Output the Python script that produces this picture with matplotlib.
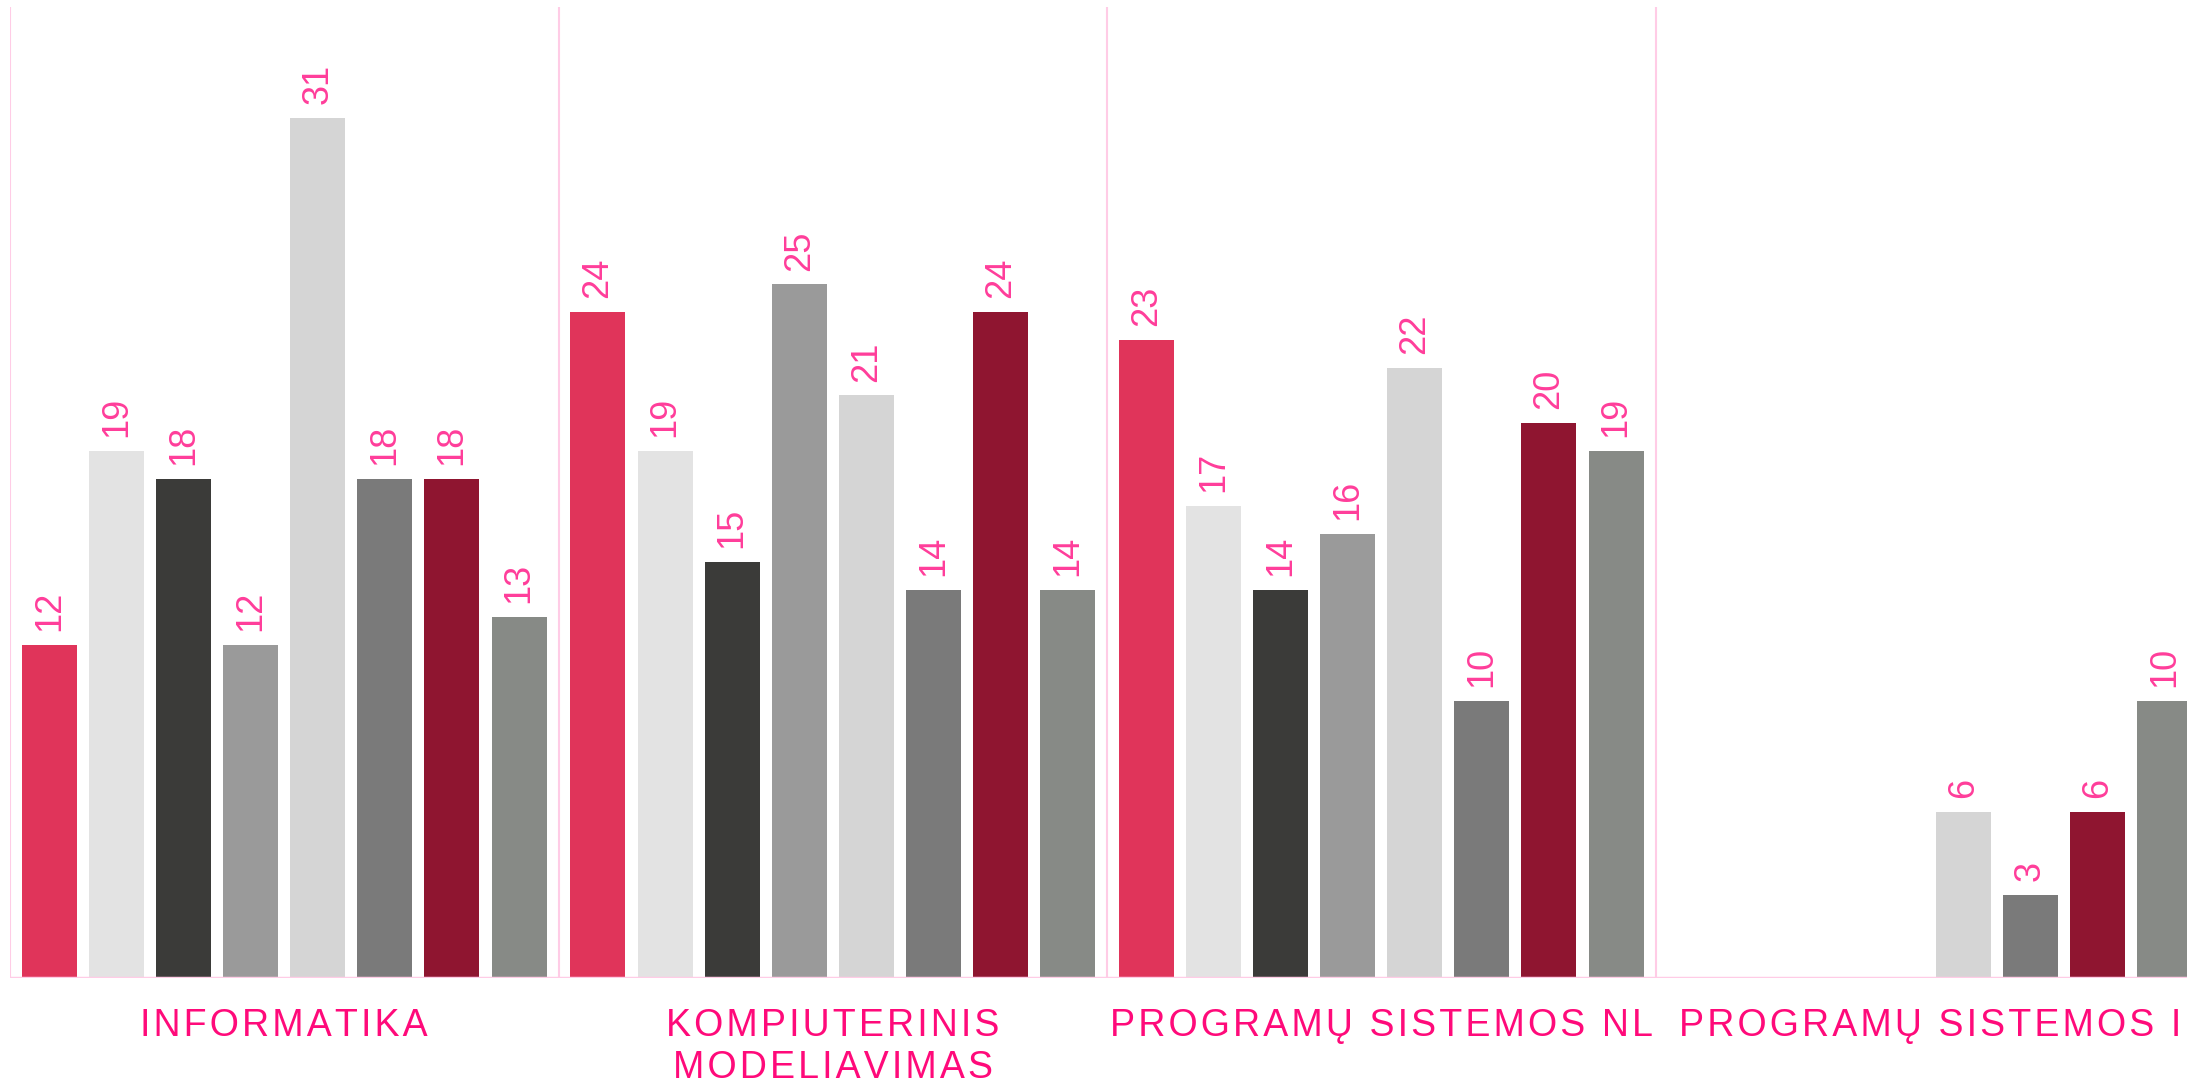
import numpy as np
import matplotlib
matplotlib.use("Agg")
import matplotlib.pyplot as plt

# data (8 series per study programme)
categories = ['INFORMATIKA', 'KOMPIUTERINIS\nMODELIAVIMAS',
              'PROGRAMŲ SISTEMOS NL', 'PROGRAMŲ SISTEMOS I']
informatika = [12, 19, 18, 12, 31, 18, 18, 13]
kompiuterinis = [24, 19, 15, 25, 21, 14, 24, 14]
programu_nl = [23, 17, 14, 16, 22, 10, 20, 19]
programu_i = [np.nan, np.nan, np.nan, np.nan, 6, 3, 6, 10]

series_colors = ['#E0345A', '#E3E3E3', '#3B3B39', '#9A9A9A',
                 '#D5D5D5', '#7A7A7A', '#8F1530', '#878A86']

groups = [informatika, kompiuterinis, programu_nl, programu_i]

plt.rcParams['font.family'] = ['Liberation Sans', 'DejaVu Sans']


def spaced(s):
    # the original labels are letter-spaced; fake it with hair spaces
    return '\n'.join('\u200a'.join(line) for line in s.split('\n'))


fig = plt.figure(figsize=(21.87, 10.83), dpi=100)
# axes run a little past the right edge, like the clipped original
ax = fig.add_axes([10 / 2187, 105 / 1083, 2194 / 2187, 971 / 1083])

pitch = 0.1223
width = 0.1004
margin = (1 - 8 * pitch) / 2

for gi, vals in enumerate(groups):
    for j, v in enumerate(vals):
        if np.isnan(v):
            continue
        x = gi + margin + (j + 0.5) * pitch
        ax.bar(x, v, width=width, color=series_colors[j], linewidth=0, zorder=2)
        ax.text(x, v + 0.5, f'{int(v)}', rotation=90, ha='center', va='bottom',
                fontsize=26, color='#FF3D9A')

for gi in range(len(groups)):
    ax.axvline(gi, color='#FFCCE6', linewidth=1.5, zorder=1)
ax.axhline(0, color='#FFCCE6', linewidth=2.5, zorder=3)

for gi, name in enumerate(categories):
    ax.text(gi + 0.5, -0.031, spaced(name), transform=ax.get_xaxis_transform(),
            ha='center', va='top', fontsize=27, color='#FF0A7A', linespacing=1.2)

ax.set_xlim(0, len(groups))
ax.set_ylim(0, 35)
for s in ax.spines.values():
    s.set_visible(False)
ax.set_xticks([])
ax.set_yticks([])

fig.savefig('out.png', dpi=100)
